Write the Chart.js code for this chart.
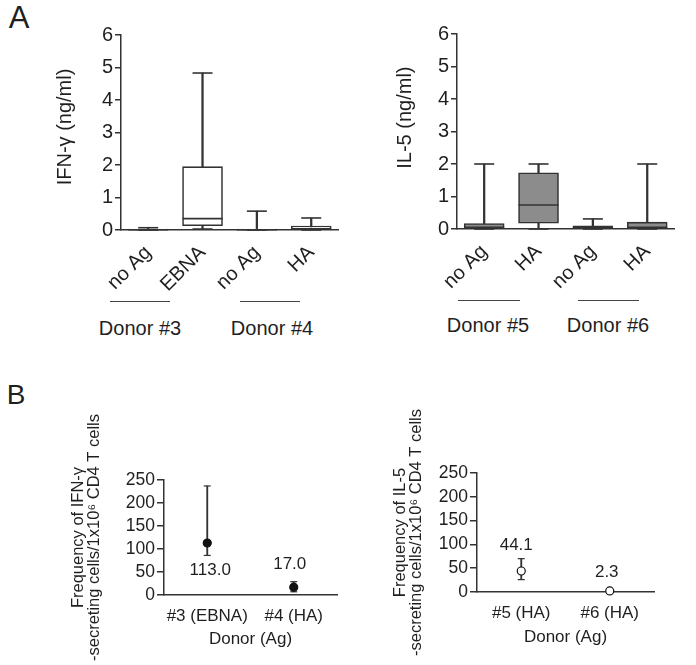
<!DOCTYPE html>
<html><head><meta charset="utf-8">
<script src="https://cdn.jsdelivr.net/npm/chart.js@4.4.0/dist/chart.umd.min.js"></script>
<style>
body{margin:0;background:#fff;width:696px;height:665px;overflow:hidden;position:relative;font-family:"Liberation Sans",Arial,sans-serif;color:#1f1f1f}
canvas{position:absolute}
.t{position:absolute;white-space:nowrap;transform:translate(-50%,-50%);line-height:1}
.ln{position:absolute;height:0;border-top:1.5px solid #444}
</style></head><body>
<div class="t" style="left:19px;top:17px;font-size:31px">A</div>
<div class="t" style="left:16px;top:395px;font-size:28px">B</div>

<canvas id="a1" width="360" height="300" style="left:0px;top:0px"></canvas>
<canvas id="a2" width="356" height="300" style="left:340px;top:0px"></canvas>
<canvas id="b1" width="345" height="295" style="left:0px;top:370px"></canvas>
<canvas id="b2" width="351" height="295" style="left:345px;top:370px"></canvas>

<div class="ln" style="left:110px;top:301px;width:60px"></div>
<div class="ln" style="left:240px;top:301px;width:60px"></div>
<div class="ln" style="left:458px;top:300px;width:62px"></div>
<div class="ln" style="left:578px;top:300px;width:61px"></div>
<div class="t" style="left:140px;top:328px;font-size:20px">Donor #3</div>
<div class="t" style="left:272px;top:328px;font-size:20px">Donor #4</div>
<div class="t" style="left:488px;top:325px;font-size:20px">Donor #5</div>
<div class="t" style="left:608px;top:325px;font-size:20px">Donor #6</div>

<script>
// ---------- Panel A: box plots ----------
const labelsA1 = ['no Ag', 'EBNA', 'no Ag', 'HA'];
const minA1 = [0, 0.03, 0, 0];
const q1A1  = [0, 0.13, 0, 0];
const medA1 = [0.01, 0.35, 0.01, 0.03];
const q3A1  = [0.03, 1.95, 0.03, 0.12];
const maxA1 = [0.07, 4.83, 0.58, 0.37];

const labelsA2 = ['no Ag', 'HA', 'no Ag', 'HA'];
const minA2 = [0, 0, 0, 0];
const q1A2  = [0.02, 0.18, 0.01, 0.02];
const medA2 = [0.05, 0.74, 0.04, 0.05];
const q3A2  = [0.17, 1.73, 0.10, 0.21];
const maxA2 = [2.0, 2.0, 0.31, 2.0];

const ticksA = [0, 1, 2, 3, 4, 5, 6];

// ---------- Panel B: frequencies ----------
const labelsB1 = ['#3 (EBNA)', '#4 (HA)'];
const meanB1 = [113.0, 17.0];
const lowB1  = [86, 7];
const highB1 = [237, 29];

const labelsB2 = ['#5 (HA)', '#6 (HA)'];
const meanB2 = [44.1, 2.3];
const lowB2  = [26, null];
const highB2 = [70, null];

const ticksB = [0, 50, 100, 150, 200, 250];

const FONT = '"Liberation Sans", Arial, sans-serif';
const INK = '#1f1f1f';
const AXIS = '#333333';

const range = (a, b) => a.map((v, i) => (v == null || b[i] == null) ? null : [v, b[i]]);

const valueLabels = {
  id: 'valueLabels',
  afterDatasetsDraw(chart, args, opts) {
    if (!opts || !opts.texts) return;
    const meta = chart.getDatasetMeta(opts.datasetIndex);
    const ctx = chart.ctx;
    ctx.save();
    ctx.font = opts.size + 'px ' + FONT;
    ctx.fillStyle = INK;
    ctx.textAlign = 'center';
    ctx.textBaseline = 'middle';
    meta.data.forEach((pt, i) => {
      if (opts.texts[i] == null) return;
      ctx.fillText(opts.texts[i], pt.x + (opts.dx ? opts.dx[i] : 0), pt.y + opts.dy[i]);
    });
    ctx.restore();
  }
};

function capSet(data, r, w) {
  return { type: 'line', data, showLine: false, pointStyle: 'line', pointRadius: r,
           pointBorderWidth: w, pointBorderColor: AXIS, borderColor: AXIS, order: 1, clip: false };
}

function boxChart(id, c) {
  new Chart(document.getElementById(id), {
    type: 'bar',
    data: {
      labels: c.labels,
      datasets: [
        { type: 'bar', data: range(c.min, c.max), backgroundColor: AXIS, borderWidth: 0,
          barThickness: 1.6, grouped: false, order: 3 },
        { type: 'bar', data: range(c.q1, c.q3), backgroundColor: c.fill, borderColor: AXIS,
          borderWidth: 1.6, borderSkipped: false, barThickness: 40, grouped: false, order: 2 },
        capSet(c.med, 20, 1.6),
        capSet(c.max, 10, 1.6),
        capSet(c.min, 10, 1.6)
      ]
    },
    options: {
      animation: false, responsive: false, events: [],
      layout: { padding: { top: c.g.top, right: c.g.right, left: 0, bottom: 0 } },
      plugins: { legend: { display: false }, tooltip: { enabled: false } },
      scales: {
        x: {
          type: 'category', offset: true,
          grid: { display: false },
          border: { display: true, color: AXIS, width: 1.5 },
          ticks: { autoSkip: false, minRotation: 45, maxRotation: 45, color: INK,
                   font: { family: FONT, size: 20 }, padding: 3 },
          afterFit(s) { s.height = c.g.xh; }
        },
        y: {
          min: 0, max: 6,
          afterBuildTicks(s) { s.ticks = ticksA.map(v => ({ value: v })); },
          grid: { display: true, drawOnChartArea: false, drawTicks: true, tickLength: 6,
                  color: AXIS, lineWidth: 1.5 },
          border: { display: true, color: AXIS, width: 1.5 },
          ticks: { autoSkip: false, color: INK, font: { family: FONT, size: 20 }, padding: 2 },
          title: { display: true, text: c.title, color: INK,
                   font: { family: FONT, size: 20 }, padding: { top: c.g.tpad, bottom: 0 } },
          afterFit(s) { s.width = c.g.yw; }
        }
      }
    }
  });
}

function dotChart(id, c) {
  new Chart(document.getElementById(id), {
    type: 'bar',
    data: {
      labels: c.labels,
      datasets: [
        { type: 'bar', data: range(c.low, c.high), backgroundColor: AXIS, borderWidth: 0,
          barThickness: 1.2, grouped: false, order: 3 },
        capSet(c.high, 3.5, 1.2),
        capSet(c.low, 3.5, 1.2),
        { type: 'line', data: c.mean, showLine: false, pointStyle: 'circle', pointRadius: 4,
          pointBackgroundColor: c.filled ? '#111' : '#fff', pointBorderColor: '#111',
          pointBorderWidth: 1.2, order: 0, clip: false }
      ]
    },
    plugins: [valueLabels],
    options: {
      animation: false, responsive: false, events: [],
      layout: { padding: { top: c.g.top, right: c.g.right, left: 0, bottom: 0 } },
      plugins: {
        legend: { display: false }, tooltip: { enabled: false },
        valueLabels: { datasetIndex: 3, texts: c.mean.map(v => v.toFixed(1)), dy: c.dy, dx: c.dx, size: 17 }
      },
      scales: {
        x: {
          type: 'category', offset: true,
          grid: { display: false },
          border: { display: true, color: AXIS, width: 1.5 },
          ticks: { autoSkip: false, maxRotation: 0, color: INK, font: { family: FONT, size: 17 }, padding: 3 },
          title: { display: true, text: 'Donor (Ag)', color: INK, font: { family: FONT, size: 17 },
                   padding: { top: 0, bottom: c.g.xtpad } },
          afterFit(s) { s.height = c.g.xh; }
        },
        y: {
          min: 0, max: 250,
          afterBuildTicks(s) { s.ticks = ticksB.map(v => ({ value: v })); },
          grid: { display: true, drawOnChartArea: false, drawTicks: true, tickLength: 7,
                  color: AXIS, lineWidth: 1.5 },
          border: { display: true, color: AXIS, width: 1.5 },
          ticks: { autoSkip: false, color: INK, font: { family: FONT, size: 17.5 }, padding: 2 },
          title: { display: true, text: c.title, color: INK,
                   font: { family: FONT, size: 16.5, lineHeight: 1.0 }, padding: { top: c.g.tpad, bottom: 0 } },
          afterFit(s) { s.width = c.g.yw; }
        }
      }
    }
  });
}

boxChart('a1', { labels: labelsA1, min: minA1, q1: q1A1, med: medA1, q3: q3A1, max: maxA1,
  fill: '#ffffff', title: '  IFN-γ (ng/ml)', g: { top: 35, right: 3, xh: 70, yw: 121, tpad: 53 } });
boxChart('a2', { labels: labelsA2, min: minA2, q1: q1A2, med: medA2, q3: q3A2, max: maxA2,
  fill: '#8c8c8c', title: '     IL-5 (ng/ml)', g: { top: 34, right: 4, xh: 71, yw: 117, tpad: 53 } });

dotChart('b1', { labels: labelsB1, mean: meanB1, low: lowB1, high: highB1, filled: true,
  title: ['Frequency of IFN-γ', '-secreting cells/1x10⁶ CD4 T cells'],
  dy: [27, -23], dx: [3, -4],
  g: { top: 110, right: 8, xh: 70, yw: 164, tpad: 70, xtpad: 15 } });
dotChart('b2', { labels: labelsB2, mean: meanB2, low: lowB2, high: highB2, filled: false,
  title: ['Frequency of IL-5', '-secreting cells/1x10⁶ CD4 T cells'],
  dy: [-26, -19], dx: [-5, -3],
  g: { top: 103, right: 42, xh: 73, yw: 132, tpad: 47, xtpad: 17 } });
</script>
</body></html>
